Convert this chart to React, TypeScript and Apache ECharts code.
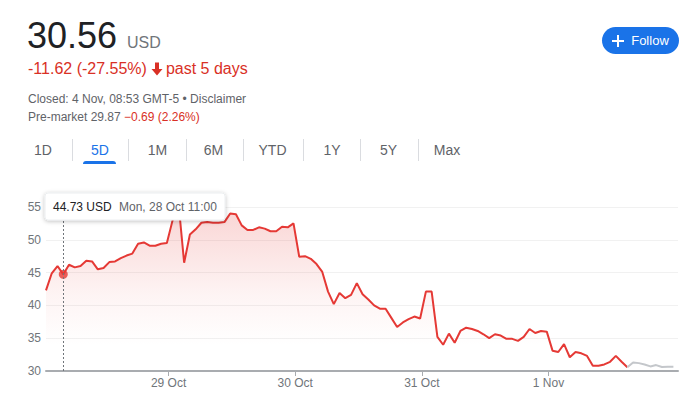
import React, { useEffect, useRef } from "react";
import * as echarts from "echarts";

// Price points (30-minute steps), red = session, grey = after close
const RED_VALUES = [
  42.3, 44.9, 46.0, 44.73, 46.2, 45.8, 46.0, 46.8, 46.7, 45.5,
  45.7, 46.6, 46.7, 47.2, 47.6, 47.9, 49.4, 49.6, 49.1, 49.1,
  49.4, 49.5, 53.0, 55.8, 46.5, 50.8, 51.6, 52.6, 52.7, 52.6,
  52.6, 52.7, 54.0, 53.9, 52.2, 51.5, 51.5, 51.9, 51.7, 51.3,
  51.3, 52.0, 51.9, 52.5, 47.4, 47.5, 47.1, 46.3, 45.1, 42.1,
  40.2, 41.9, 41.1, 41.6, 43.4, 41.7, 40.9, 40.0, 39.5, 39.5,
  38.1, 36.7, 37.4, 37.9, 38.3, 38.0, 42.1, 42.1, 35.2, 34.0,
  35.7, 34.3, 36.1, 36.6, 36.4, 36.1, 35.6, 35.0, 35.6, 35.4,
  34.9, 34.9, 34.6, 35.2, 36.4, 35.8, 36.1, 36.0, 33.1, 32.9,
  34.1, 32.1, 32.9, 32.7, 32.3, 30.8, 30.8, 31.0, 31.4, 32.3,
  31.4, 30.56,
];
const GREY_VALUES = [30.56, 31.3, 31.2, 31.0, 30.7, 30.9, 30.6, 30.65, 30.65];

const DAY_TICKS = [21.3, 43.3, 65.3, 87.3];
const DAY_LABELS = ["29 Oct", "30 Oct", "31 Oct", "1 Nov"];

const Y_MIN = 30;
const Y_MAX = 55;
const Y_STEP = 5;

const HOVER_INDEX = 3;
const HOVER_PRICE = "44.73 USD";
const HOVER_TIME = "Mon, 28 Oct 11:00";

const TABS = ["1D", "5D", "1M", "6M", "YTD", "1Y", "5Y", "Max"];
const TAB_CENTERS = [43, 100, 157.5, 213.5, 272.5, 332, 388.5, 447];
const TAB_SEPARATORS = [72, 128, 186, 243, 303, 360, 418];

const FONT = "'Liberation Sans', Arial, Helvetica, sans-serif";
const RED = "#e53935";
const GREY_TEXT = "#70757a";

function Chart() {
  const ref = useRef<HTMLDivElement>(null);
  useEffect(() => {
    if (!ref.current) return;
    const chart = echarts.init(ref.current, undefined, { renderer: "svg" });
    const redData = RED_VALUES.map((v, i) => [i, v]);
    const greyStart = RED_VALUES.length - 1;
    const greyData = GREY_VALUES.map((v, i) => [greyStart + i, v]);
    chart.setOption({
      animation: false,
      textStyle: { fontFamily: FONT },
      grid: { left: 46, right: 21, top: 207, bottom: 26 },
      xAxis: {
        type: "value",
        min: 0,
        max: 109.8,
        splitLine: { show: false },
        axisLine: { show: true, lineStyle: { color: "#a9acb0", width: 2 } },
        axisTick: {
          show: true,
          length: 5,
          lineStyle: { color: "#a9acb0", width: 1 },
          customValues: DAY_TICKS,
        },
        axisLabel: {
          show: true,
          customValues: DAY_TICKS,
          color: GREY_TEXT,
          fontSize: 12,
          margin: 6,
          formatter: (val: number) => {
            let best = 0;
            for (let i = 1; i < DAY_TICKS.length; i++) {
              if (Math.abs(DAY_TICKS[i] - val) < Math.abs(DAY_TICKS[best] - val)) best = i;
            }
            return DAY_LABELS[best];
          },
        },
      },
      yAxis: {
        type: "value",
        min: Y_MIN,
        max: Y_MAX,
        interval: Y_STEP,
        axisLine: { show: false },
        axisTick: { show: false },
        splitLine: { show: true, lineStyle: { color: "#f1f1f1", width: 1 } },
        axisLabel: { color: GREY_TEXT, fontSize: 12, margin: 5 },
      },
      series: [
        {
          type: "line",
          data: redData,
          symbol: "none",
          clip: false,
          lineStyle: { color: RED, width: 2 },
          itemStyle: { color: RED },
          areaStyle: {
            color: new echarts.graphic.LinearGradient(0, 0, 0, 1, [
              { offset: 0, color: "rgba(229,57,53,0.32)" },
              { offset: 0.55, color: "rgba(229,57,53,0.08)" },
              { offset: 0.85, color: "rgba(229,57,53,0.0)" },
              { offset: 1, color: "rgba(229,57,53,0.0)" },
            ]),
          },
          markLine: {
            silent: true,
            symbol: "none",
            label: { show: false },
            lineStyle: { color: "#70757a", type: [2, 2], width: 1 },
            data: [{ xAxis: HOVER_INDEX }],
          },
          z: 2,
        },
        {
          type: "line",
          data: greyData,
          symbol: "none",
          lineStyle: { color: "#c4c7cb", width: 2 },
          z: 2,
        },
        {
          type: "scatter",
          data: [[HOVER_INDEX, RED_VALUES[HOVER_INDEX]]],
          symbolSize: 9,
          itemStyle: { color: RED },
          z: 3,
        },
      ],
      graphic: [
        {
          type: "rect",
          z: 100,
          shape: { x: 45, y: 193, width: 180, height: 27, r: 3 },
          style: {
            fill: "#ffffff",
            stroke: "#eceef0",
            lineWidth: 1,
            shadowBlur: 4,
            shadowColor: "rgba(0,0,0,0.25)",
            shadowOffsetY: 1,
          },
        },
        {
          type: "text",
          z: 101,
          x: 53,
          y: 207,
          style: {
            text: HOVER_PRICE,
            fill: "#202124",
            font: `12px ${FONT}`,
            verticalAlign: "middle",
          },
        },
        {
          type: "text",
          z: 101,
          x: 119,
          y: 207,
          style: {
            text: HOVER_TIME,
            fill: "#5f6368",
            font: `12px ${FONT}`,
            verticalAlign: "middle",
          },
        },
      ],
    });
    return () => chart.dispose();
  }, []);
  return (
    <div
      ref={ref}
      style={{ position: "absolute", left: 0, top: 0, width: 699, height: 397 }}
    />
  );
}

export default function App() {
  const abs = (o: React.CSSProperties): React.CSSProperties => ({
    position: "absolute",
    whiteSpace: "nowrap",
    fontFamily: FONT,
    ...o,
  });
  return (
    <div
      style={{
        position: "fixed",
        left: 0,
        top: 0,
        width: 699,
        height: 397,
        background: "#fff",
        overflow: "hidden",
      }}
    >
      <Chart />
      <div style={abs({ left: 27, top: 18, fontSize: 36, lineHeight: "36px", color: "#202124" })}>
        30.56
      </div>
      <div style={abs({ left: 127, top: 35, fontSize: 16, lineHeight: "16px", color: GREY_TEXT })}>
        USD
      </div>
      <div
        style={abs({
          left: 28,
          top: 61,
          fontSize: 16,
          lineHeight: "16px",
          color: "#d93025",
          display: "flex",
          alignItems: "center",
        })}
      >
        <span>-11.62 (-27.55%)</span>
        <svg width="12" height="14" viewBox="0 0 12 14" style={{ margin: "0 3px 0 4px" }}>
          <path fill="#d93025" d="M4 0.5h4v6.5h3.5L6 13.5 0.5 7H4z" />
        </svg>
        <span>past 5 days</span>
      </div>
      <div style={abs({ left: 28, top: 93, fontSize: 12, lineHeight: "12px", color: "#5f6368" })}>
        Closed: 4 Nov, 08:53 GMT-5 • Disclaimer
      </div>
      <div style={abs({ left: 28, top: 111, fontSize: 12, lineHeight: "12px", color: "#5f6368" })}>
        Pre-market 29.87 <span style={{ color: "#d93025" }}>−0.69 (2.26%)</span>
      </div>
      <div
        style={abs({
          left: 602,
          top: 27,
          width: 77,
          height: 27,
          borderRadius: 14,
          background: "#1a73e8",
          color: "#fff",
          fontSize: 13,
          display: "flex",
          alignItems: "center",
          justifyContent: "center",
          gap: 7,
        })}
      >
        <svg width="12" height="12" viewBox="0 0 12 12">
          <rect x="5" y="0" width="2" height="12" fill="#fff" />
          <rect x="0" y="5" width="12" height="2" fill="#fff" />
        </svg>
        <span>Follow</span>
      </div>
      {TABS.map((t, i) => (
        <div
          key={t}
          style={abs({
            left: TAB_CENTERS[i] - 30,
            width: 60,
            textAlign: "center",
            top: 143,
            fontSize: 14,
            lineHeight: "14px",
            color: t === "5D" ? "#1a73e8" : "#5f6368",
          })}
        >
          {t}
        </div>
      ))}
      {TAB_SEPARATORS.map((x) => (
        <div
          key={x}
          style={{ position: "absolute", left: x, top: 139, width: 1, height: 22, background: "#dadce0" }}
        />
      ))}
      <div
        style={{
          position: "absolute",
          left: 83,
          top: 161,
          width: 33,
          height: 3,
          borderRadius: "3px 3px 0 0",
          background: "#1a73e8",
        }}
      />
    </div>
  );
}
